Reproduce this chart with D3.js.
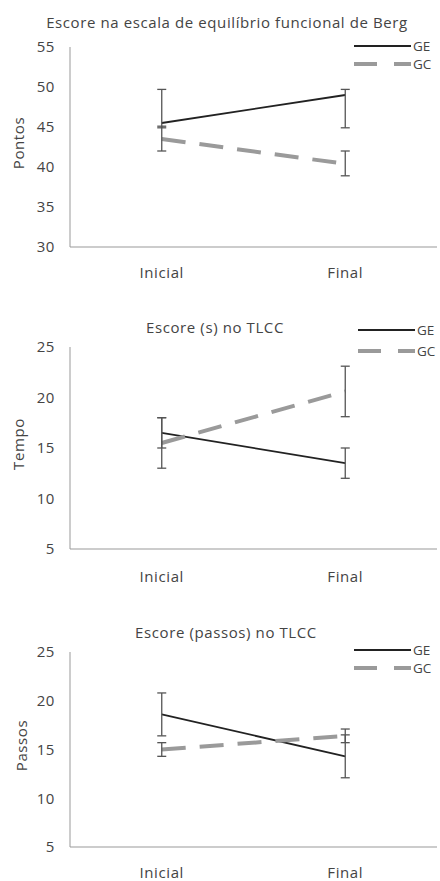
<!DOCTYPE html>
<html>
<head>
<meta charset="utf-8">
<script src="https://cdn.jsdelivr.net/npm/d3@7/dist/d3.min.js"></script>
<style>
  html, body { margin: 0; padding: 0; background: #fff; }
  svg { display: block; }
  text { font-family: "Open Sans", Lato, sans-serif; fill: #444; }
</style>
</head>
<body>
<svg id="chart" width="440" height="881"></svg>
<script>
// ---- Data ----
const categories = ["Inicial", "Final"];
const seriesNames = ["GE", "GC"];

// Panel 1: Berg
const bergTitle = "Escore na escala de equilíbrio funcional de Berg";
const bergYLabel = "Pontos";
const bergTicks = [30, 35, 40, 45, 50, 55];
const bergGE = [45.5, 49.0];
const bergGELow = [44.9, 44.9];
const bergGEHigh = [49.7, 49.7];
const bergGC = [43.5, 40.4];
const bergGCLow = [42.0, 38.9];
const bergGCHigh = [45.1, 42.0];

// Panel 2: TLCC seconds
const tempoTitle = "Escore (s) no TLCC";
const tempoYLabel = "Tempo";
const tempoTicks = [5, 10, 15, 20, 25];
const tempoGE = [16.5, 13.5];
const tempoGELow = [15.0, 12.0];
const tempoGEHigh = [18.0, 15.0];
const tempoGC = [15.5, 20.6];
const tempoGCLow = [13.0, 18.1];
const tempoGCHigh = [18.0, 23.1];

// Panel 3: TLCC steps
const passosTitle = "Escore (passos) no TLCC";
const passosYLabel = "Passos";
const passosTicks = [5, 10, 15, 20, 25];
const passosGE = [18.6, 14.3];
const passosGELow = [16.4, 12.1];
const passosGEHigh = [20.8, 16.5];
const passosGC = [15.0, 16.4];
const passosGCLow = [14.3, 15.7];
const passosGCHigh = [15.7, 17.1];

const panels = [
  { title: bergTitle, ylabel: bergYLabel, ticks: bergTicks,
    series: [
      { name: "GE", values: bergGE, low: bergGELow, high: bergGEHigh },
      { name: "GC", values: bergGC, low: bergGCLow, high: bergGCHigh }
    ],
    layout: { top: 47, bottom: 247, titleX: 227, titleY: 28, legY: [46, 64], legX: 354, ylabX: 19, xlabY: 278 } },
  { title: tempoTitle, ylabel: tempoYLabel, ticks: tempoTicks,
    series: [
      { name: "GE", values: tempoGE, low: tempoGELow, high: tempoGEHigh },
      { name: "GC", values: tempoGC, low: tempoGCLow, high: tempoGCHigh }
    ],
    layout: { top: 347, bottom: 549, titleX: 215, titleY: 333, legY: [330, 351], legX: 358, ylabX: 19, xlabY: 582 } },
  { title: passosTitle, ylabel: passosYLabel, ticks: passosTicks,
    series: [
      { name: "GE", values: passosGE, low: passosGELow, high: passosGEHigh },
      { name: "GC", values: passosGC, low: passosGCLow, high: passosGCHigh }
    ],
    layout: { top: 652, bottom: 847, titleX: 226, titleY: 638, legY: [650, 668], legX: 354, ylabX: 22, xlabY: 878 } }
];

const styles = {
  GE: { stroke: "#222", width: 1.8, dash: null },
  GC: { stroke: "#9a9a9a", width: 4, dash: "24,14" }
};

const svg = d3.select("#chart");
const axisLeft = 70, axisRight = 437;
const fs = 15;
const ls = "0.6px";

panels.forEach(p => {
  const L = p.layout;
  const g = svg.append("g");
  const x = d3.scalePoint().domain(categories).range([axisLeft, axisRight]).padding(0.5);
  const y = d3.scaleLinear().domain(d3.extent(p.ticks)).range([L.bottom, L.top]);

  // axes lines
  g.append("line").attr("x1", axisLeft).attr("x2", axisLeft).attr("y1", y(d3.max(p.ticks))).attr("y2", y(d3.min(p.ticks)))
    .attr("stroke", "#999").attr("stroke-width", 1);
  g.append("line").attr("x1", axisLeft).attr("x2", axisRight).attr("y1", y(d3.min(p.ticks))).attr("y2", y(d3.min(p.ticks)))
    .attr("stroke", "#999").attr("stroke-width", 1);

  // y tick labels
  g.selectAll(".yt").data(p.ticks).enter().append("text")
    .attr("x", 55).attr("y", d => y(d)).attr("dy", "0.35em")
    .attr("text-anchor", "end").attr("font-size", fs).attr("letter-spacing", ls).text(d => d);

  // x labels
  g.selectAll(".xt").data(categories).enter().append("text")
    .attr("x", d => x(d)).attr("y", L.xlabY)
    .attr("text-anchor", "middle").attr("font-size", fs).attr("letter-spacing", ls).text(d => d);

  // y axis title
  const cy = (L.top + L.bottom) / 2 - 4;
  g.append("text").attr("transform", `translate(${L.ylabX},${cy}) rotate(-90)`)
    .attr("dy", "0.35em").attr("text-anchor", "middle").attr("font-size", fs).attr("letter-spacing", ls).text(p.ylabel);

  // title
  g.append("text").attr("x", L.titleX).attr("y", L.titleY).attr("text-anchor", "middle")
    .attr("font-size", fs).attr("letter-spacing", ls).text(p.title);

  const line = d3.line().x((d, i) => x(categories[i])).y(d => y(d));

  // series lines
  p.series.forEach(s => {
    const st = styles[s.name];
    g.append("path").attr("d", line(s.values)).attr("fill", "none")
      .attr("stroke", st.stroke).attr("stroke-width", st.width)
      .attr("stroke-dasharray", st.dash);
  });

  // error bars
  p.series.forEach(s => {
    categories.forEach((c, i) => {
      const cx = x(c);
      const eg = g.append("g").attr("stroke", "#555").attr("stroke-width", 1.3);
      eg.append("line").attr("x1", cx).attr("x2", cx).attr("y1", y(s.low[i])).attr("y2", y(s.high[i]));
      [s.low[i], s.high[i]].forEach(v => {
        eg.append("line").attr("x1", cx - 4.5).attr("x2", cx + 4.5).attr("y1", y(v)).attr("y2", y(v));
      });
    });
  });

  // legend
  p.series.forEach((s, k) => {
    const st = styles[s.name];
    const ly = L.legY[k];
    g.append("line").attr("x1", L.legX).attr("x2", L.legX + 57).attr("y1", ly).attr("y2", ly)
      .attr("stroke", st.stroke).attr("stroke-width", st.width)
      .attr("stroke-dasharray", st.dash ? "23,17" : null);
    g.append("text").attr("x", L.legX + 59).attr("y", ly).attr("dy", "0.35em")
      .attr("font-size", 13.5).text(s.name);
  });
});
</script>
</body>
</html>
